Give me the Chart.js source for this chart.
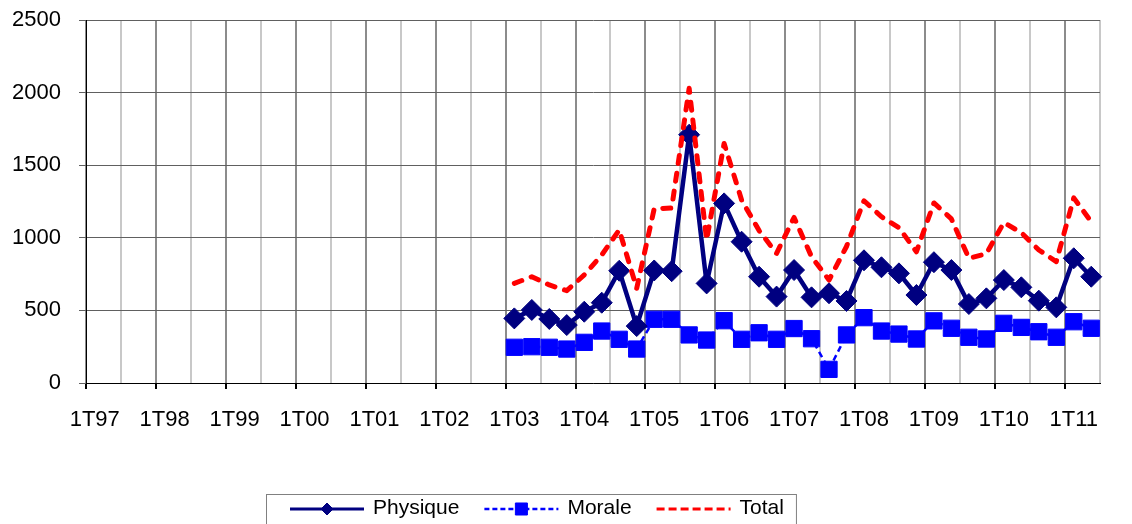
<!DOCTYPE html>
<html lang="fr">
<head>
<meta charset="utf-8">
<title>Physique / Morale / Total</title>
<script src="https://cdn.jsdelivr.net/npm/chart.js@4.4.0/dist/chart.umd.min.js"></script>
<style>
  html, body { margin: 0; padding: 0; background: #fff; }
  #cadre { width: 1132px; height: 524px; }
</style>
</head>
<body>
<div id="cadre"><canvas id="graphique" width="1132" height="524"></canvas></div>
<script>
// --- Données ---
// Trimestres de 1T97 à 2T11
const annees = ['97', '98', '99', '00', '01', '02', '03', '04', '05', '06', '07', '08', '09', '10', '11'];
const trimestres = ['1T', '2T', '3T', '4T'];

// Pas de données avant 1T03 (24 trimestres vides)
const avant2003 = new Array(24).fill(null);

// Valeurs de 1T03 à 2T11
const physique = [445, 503, 441, 399, 491, 553, 773, 392, 775, 770, 1710, 686,
  1237, 973, 732, 595, 778, 590, 618, 565, 845, 797, 755, 606,
  832, 778, 544, 583, 709, 659, 567, 521, 859, 732];
const morale = [246, 250, 246, 234, 280, 358, 301, 234, 439, 439, 331, 296,
  429, 301, 346, 301, 375, 305, 94, 331, 450, 358, 337, 303,
  428, 377, 315, 303, 411, 383, 353, 315, 422, 377];
const total = [686, 732, 675, 636, 744, 882, 1054, 652, 1200, 1205, 2030, 985,
  1650, 1260, 1050, 893, 1140, 870, 709, 940, 1255, 1145, 1070, 904,
  1240, 1130, 859, 890, 1105, 1035, 916, 836, 1275, 1110];

// Graduations de l'axe vertical
const graduationsY = [0, 500, 1000, 1500, 2000, 2500];

// Construction des libellés de catégories
const categories = [];
annees.forEach(a => trimestres.forEach(t => categories.push(t + a)));
categories.splice(58); // s'arrête à 2T11

const POLICE = '"Liberation Sans", Arial, sans-serif';

// --- Légende dessinée à la main (ligne + marqueur comme dans Excel) ---
const legendeExcel = {
  id: 'legendeExcel',
  afterDraw(chart) {
    const ctx = chart.ctx;
    const yLigne = 509;
    const longueurTrait = 74;
    ctx.save();
    ctx.font = '21px ' + POLICE;
    ctx.textBaseline = 'middle';
    ctx.fillStyle = '#000';

    let x = 290;
    const gauche = 266;
    chart.data.datasets.forEach(ds => {
      // trait
      ctx.save();
      ctx.strokeStyle = ds.borderColor;
      ctx.lineWidth = ds.legendeEpaisseur;
      ctx.setLineDash(ds.legendeTirets || []);
      ctx.beginPath();
      ctx.moveTo(x, yLigne);
      ctx.lineTo(x + longueurTrait, yLigne);
      ctx.stroke();
      ctx.restore();
      // marqueur
      if (ds.legendeRayon) {
        ctx.save();
        ctx.fillStyle = ds.pointBackgroundColor;
        ctx.strokeStyle = ds.pointBorderColor;
        Chart.helpers.drawPoint(ctx, {
          pointStyle: ds.pointStyle,
          radius: ds.legendeRayon,
          rotation: 0,
          borderWidth: 1
        }, x + longueurTrait / 2, yLigne);
        ctx.restore();
      }
      // texte
      const tx = x + longueurTrait + 9;
      ctx.fillText(ds.label, tx, yLigne - 1);
      x = tx + ctx.measureText(ds.label).width + 25;
    });

    // cadre de la légende
    ctx.strokeStyle = '#808080';
    ctx.lineWidth = 1;
    ctx.strokeRect(gauche + 0.5, 494.5, (x - 25 + 12) - gauche, 40);
    ctx.restore();
  }
};

// --- Graphique ---
const ctxGraphique = document.getElementById('graphique').getContext('2d');

new Chart(ctxGraphique, {
  type: 'line',
  data: {
    labels: categories,
    datasets: [
      {
        label: 'Physique',
        data: avant2003.concat(physique),
        borderColor: '#000080',
        backgroundColor: '#000080',
        pointBackgroundColor: '#000080',
        pointBorderColor: '#000080',
        borderWidth: 4.5,
        borderJoinStyle: 'round',
        pointStyle: 'rectRot',
        pointRadius: 10.5,
        pointBorderWidth: 1,
        tension: 0,
        order: 1,
        legendeEpaisseur: 3,
        legendeRayon: 6
      },
      {
        label: 'Morale',
        data: avant2003.concat(morale),
        borderColor: '#0000FF',
        backgroundColor: '#0000FF',
        pointBackgroundColor: '#0000FF',
        pointBorderColor: '#0000FF',
        borderWidth: 2.5,
        borderDash: [6, 4],
        pointStyle: 'rect',
        pointRadius: 11.5,
        pointBorderWidth: 1,
        tension: 0,
        order: 2,
        legendeEpaisseur: 2.5,
        legendeTirets: [5, 3],
        legendeRayon: 8.5
      },
      {
        label: 'Total',
        data: avant2003.concat(total),
        borderColor: '#FF0000',
        backgroundColor: '#FF0000',
        borderWidth: 5,
        borderDash: [8, 10],
        borderCapStyle: 'round',
        borderJoinStyle: 'round',
        pointRadius: 0,
        tension: 0,
        order: 0,
        legendeEpaisseur: 3,
        legendeTirets: [8, 4]
      }
    ]
  },
  options: {
    responsive: false,
    animation: false,
    layout: { padding: { top: 20, right: 32, left: 0, bottom: 0 } },
    plugins: {
      legend: { display: false },
      tooltip: { enabled: false }
    },
    scales: {
      x: {
        type: 'category',
        offset: true,
        grid: {
          offset: true,
          lineWidth: c => (c.index !== undefined && c.index % 2 === 1) ? 0 : 2,
          tickLength: 6,
          color: c => {
            if (c.index === undefined) return '#c8c8c8';
            if (c.index % 4 === 0) return '#8c8c8c';
            if (c.index % 2 === 0) return '#c8c8c8';
            return 'rgba(0,0,0,0)';
          },
          tickColor: c => (c.index !== undefined && c.index % 4 === 0) ? '#000' : 'rgba(0,0,0,0)'
        },
        border: { color: '#000', width: 1 },
        ticks: {
          autoSkip: false,
          maxRotation: 0,
          minRotation: 0,
          padding: 18,
          color: '#000',
          font: { family: POLICE, size: 22 },
          callback: (v, i) => (i % 4 === 0 ? categories[i] : '')
        },
        afterFit: s => { s.height = 141; }
      },
      y: {
        min: 0,
        max: 2500,
        afterBuildTicks: s => { s.ticks = graduationsY.map(v => ({ value: v })); },
        grid: { color: '#606060', lineWidth: 1, tickLength: 7, tickColor: '#606060' },
        border: { color: '#000', width: 1 },
        ticks: {
          padding: 18,
          color: '#000',
          font: { family: POLICE, size: 22 },
          callback: v => String(v)
        },
        afterFit: s => {
          s.width = 86;
          s.paddingTop = 0;
          s.paddingBottom = 0;
        }
      }
    }
  },
  plugins: [legendeExcel]
});
</script>
</body>
</html>
